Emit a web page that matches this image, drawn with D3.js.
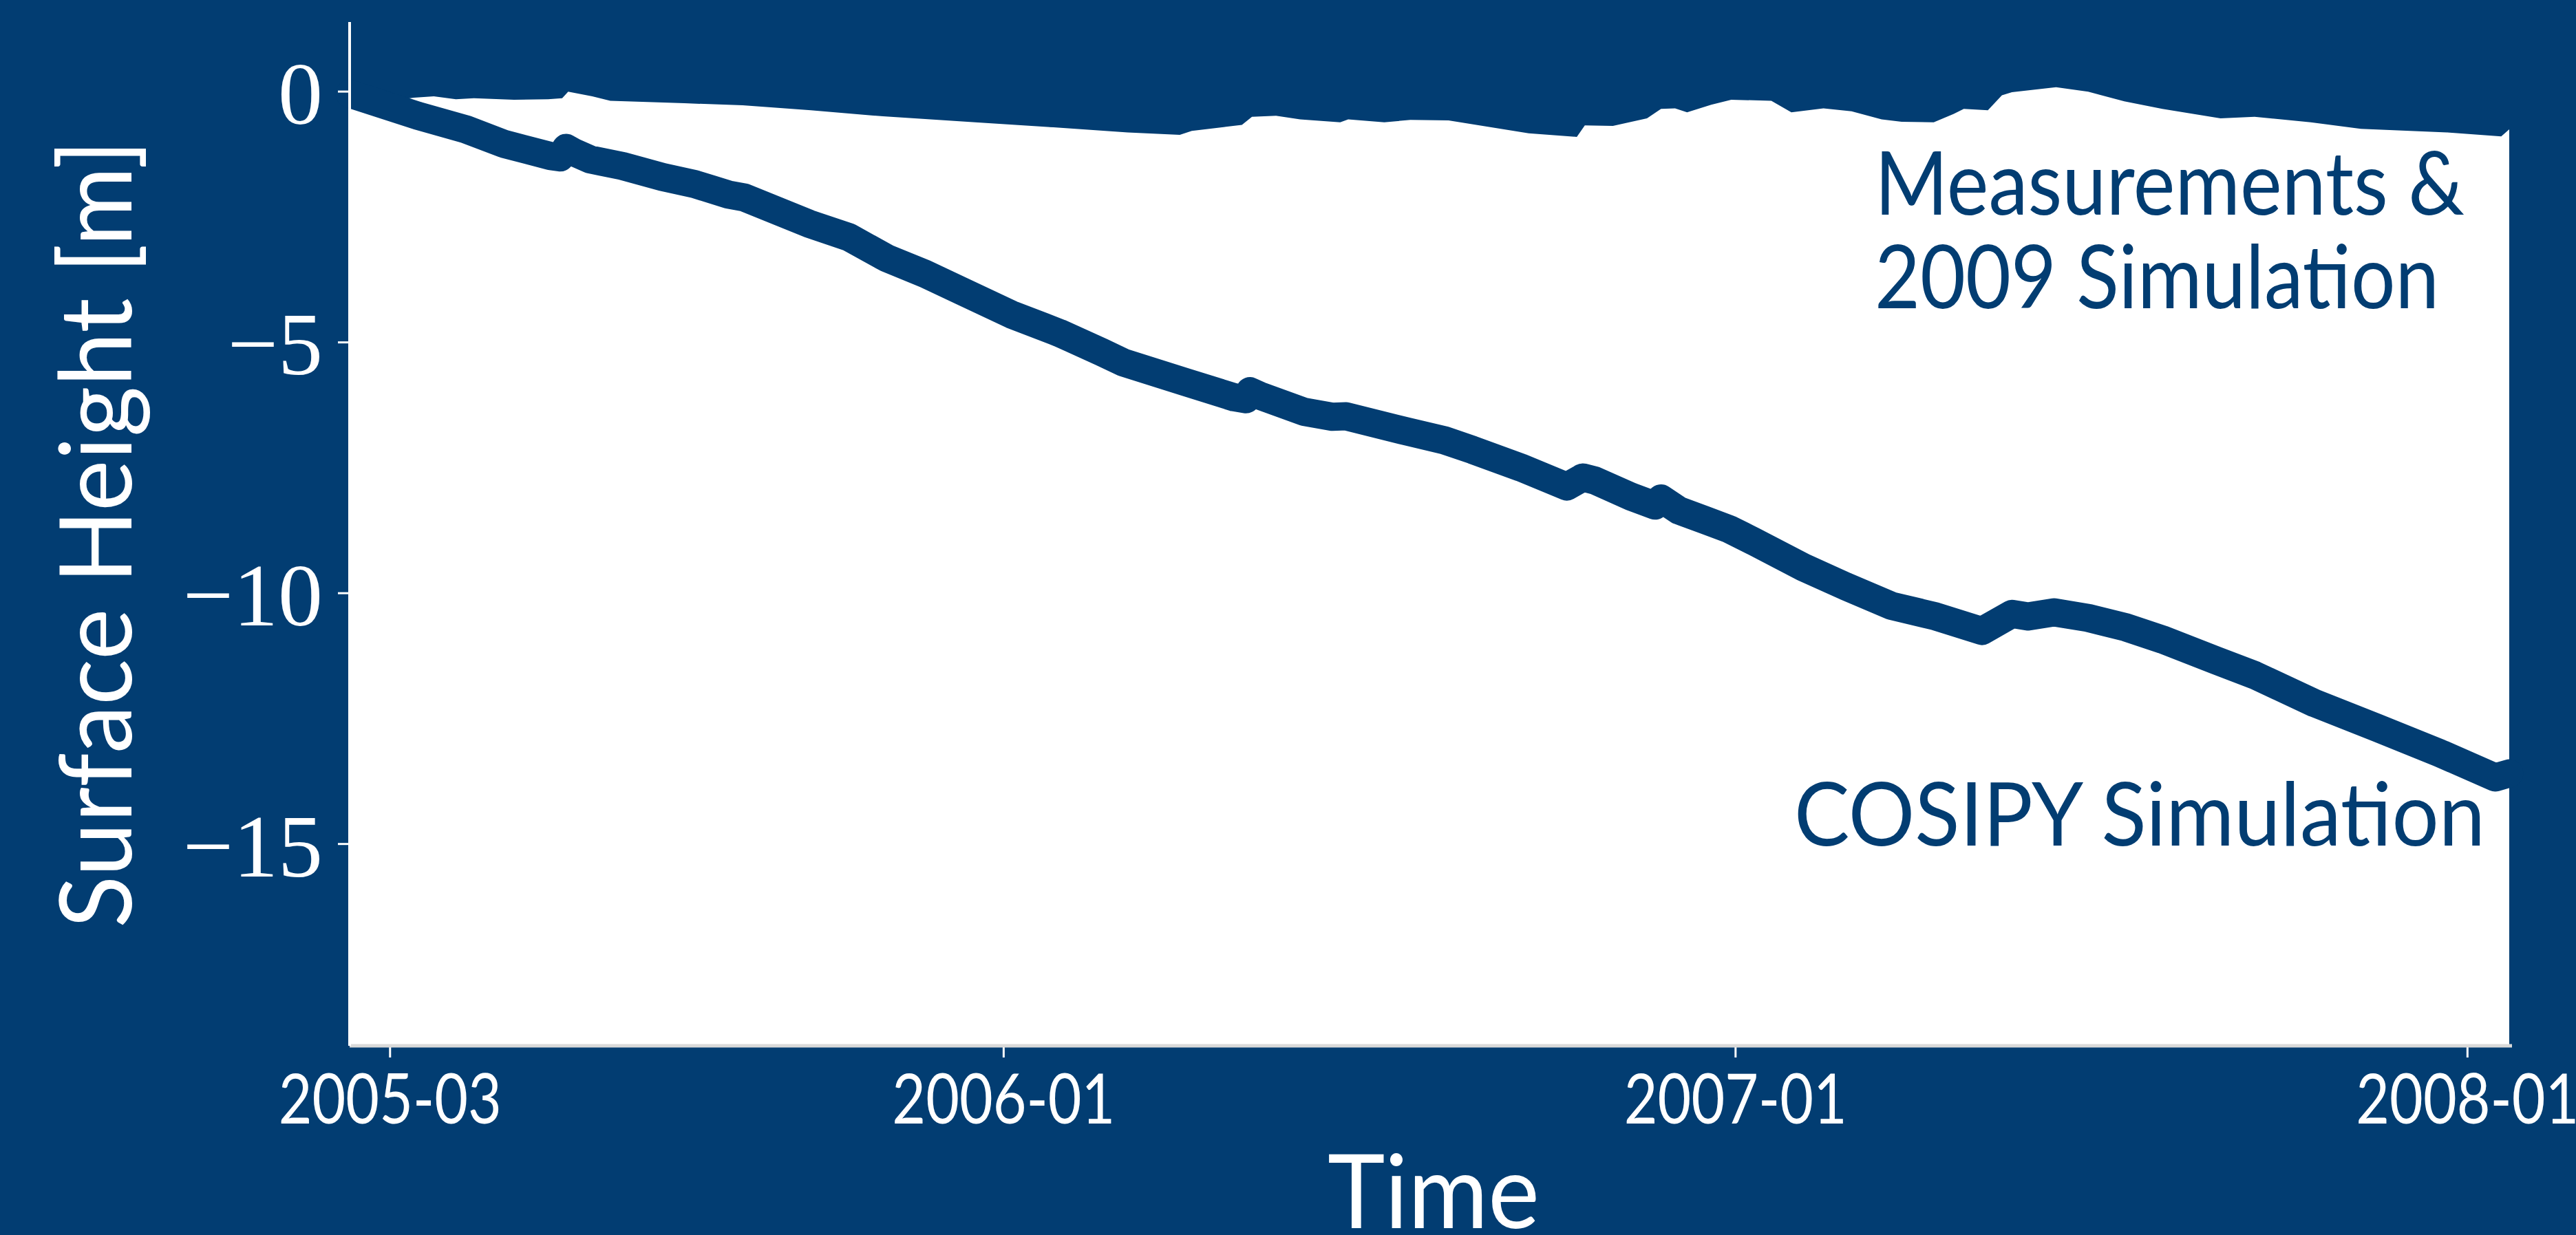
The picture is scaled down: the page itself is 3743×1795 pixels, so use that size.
<!DOCTYPE html>
<html>
<head>
<meta charset="utf-8">
<script src="https://cdn.jsdelivr.net/npm/d3@7"></script>
<style>
  body { margin: 0; background: #023d72; }
  svg { display: block; }
</style>
</head>
<body>
<div id="chart"></div>
<script>
"use strict";

// COSIPY simulation, surface height in m
var cosipyDates = ["2005-02-09","2005-03-15","2005-04-08","2005-04-27","2005-05-20","2005-05-25","2005-05-28","2005-06-01","2005-06-09","2005-06-25","2005-07-15","2005-07-31","2005-08-17","2005-08-25","2005-09-26","2005-10-16","2005-11-04","2005-11-23","2005-12-11","2006-01-05","2006-01-29","2006-02-19","2006-03-02","2006-04-02","2006-04-26","2006-05-02","2006-05-04","2006-05-09","2006-05-31","2006-06-14","2006-06-21","2006-07-21","2006-08-09","2006-08-23","2006-09-16","2006-10-09","2006-10-17","2006-10-23","2006-11-10","2006-11-22","2006-11-25","2006-12-04","2006-12-17","2006-12-29","2007-01-10","2007-02-04","2007-02-25","2007-03-20","2007-04-11","2007-05-04","2007-05-19","2007-05-27","2007-06-09","2007-06-26","2007-07-15","2007-08-02","2007-08-29","2007-09-17","2007-10-17","2007-11-17","2007-12-18","2008-01-15","2008-01-22"];
var cosipyHeight = [-0.05,-0.49,-0.76,-1.05,-1.29,-1.32,-1.13,-1.22,-1.36,-1.49,-1.71,-1.85,-2.06,-2.12,-2.64,-2.91,-3.33,-3.64,-3.98,-4.45,-4.82,-5.20,-5.41,-5.80,-6.10,-6.14,-5.98,-6.07,-6.39,-6.49,-6.48,-6.78,-6.96,-7.15,-7.50,-7.88,-7.70,-7.76,-8.08,-8.26,-8.12,-8.36,-8.55,-8.73,-8.97,-9.49,-9.87,-10.26,-10.47,-10.76,-10.42,-10.47,-10.39,-10.50,-10.69,-10.93,-11.35,-11.64,-12.20,-12.69,-13.19,-13.68,-13.60];

// measurements & 2009 simulation (filled up to the top of the plot)
var measDates = ["2005-02-09","2005-03-13","2005-03-23","2005-04-03","2005-04-12","2005-05-02","2005-05-19","2005-05-26","2005-05-29","2005-06-10","2005-06-19","2005-07-26","2005-08-24","2005-09-27","2005-11-02","2005-12-18","2006-01-26","2006-03-04","2006-03-30","2006-04-05","2006-04-22","2006-04-30","2006-05-05","2006-05-17","2006-05-29","2006-06-18","2006-06-22","2006-07-10","2006-07-23","2006-08-11","2006-09-20","2006-10-14","2006-10-18","2006-11-01","2006-11-18","2006-11-25","2006-12-02","2006-12-08","2006-12-20","2006-12-30","2007-01-19","2007-01-29","2007-02-14","2007-02-28","2007-03-15","2007-03-25","2007-04-10","2007-04-20","2007-04-25","2007-05-07","2007-05-14","2007-05-19","2007-06-10","2007-06-26","2007-07-14","2007-08-02","2007-08-31","2007-09-17","2007-10-15","2007-11-09","2007-12-22","2008-01-18","2008-01-22"];
var measHeight = [-0.30,-0.13,-0.10,-0.16,-0.14,-0.17,-0.16,-0.14,-0.01,-0.10,-0.19,-0.24,-0.28,-0.38,-0.50,-0.62,-0.72,-0.82,-0.87,-0.79,-0.71,-0.67,-0.51,-0.49,-0.56,-0.62,-0.56,-0.62,-0.57,-0.58,-0.84,-0.91,-0.68,-0.69,-0.54,-0.35,-0.34,-0.42,-0.27,-0.17,-0.19,-0.42,-0.34,-0.40,-0.56,-0.61,-0.62,-0.45,-0.35,-0.38,-0.08,-0.02,0.08,-0.01,-0.20,-0.35,-0.54,-0.51,-0.62,-0.75,-0.82,-0.90,-0.76];

// axes
var xTickDates = ["2005-03-01", "2006-01-01", "2007-01-01", "2008-01-01"];
var xTickLabels = ["2005-03", "2006-01", "2007-01", "2008-01"];
var yTicks = [0, -5, -10, -15];
var xLimits = ["2005-02-09", "2008-01-22"];
var yLimits = [-19.03, 1.38];

var blue = "#023d72";
var sans = "Lato, 'Open Sans', sans-serif";
var serif = "'Liberation Serif', 'DejaVu Serif', serif";

var parse = d3.utcParse("%Y-%m-%d");

var margin = { top: 32, right: 97, bottom: 275, left: 508 },
    W = 3743, H = 1795,
    width = W - margin.left - margin.right,
    height = H - margin.top - margin.bottom;

var svg = d3.select("#chart")
  .append("svg")
  .attr("width", W)
  .attr("height", H);

svg.append("rect")
  .attr("width", W).attr("height", H)
  .attr("fill", blue);

var g = svg.append("g")
  .attr("transform", "translate(" + margin.left + "," + margin.top + ")");

var x = d3.scaleUtc().domain(xLimits.map(parse)).range([0, width]);
var y = d3.scaleLinear().domain(yLimits).range([height, 0]);

var cosipy = cosipyDates.map(function (d, i) { return { date: parse(d), h: cosipyHeight[i] }; });
var meas = measDates.map(function (d, i) { return { date: parse(d), h: measHeight[i] }; });

// white plot area
g.append("rect")
  .attr("width", width).attr("height", height)
  .attr("fill", "#fff");

// measurements: filled from the curve up to the top
g.append("path")
  .datum(meas)
  .attr("fill", blue)
  .attr("d", d3.area()
    .x(function (d) { return x(d.date); })
    .y0(0)
    .y1(function (d) { return y(d.h); }));

// COSIPY line
g.append("path")
  .datum(cosipy)
  .attr("fill", "none")
  .attr("stroke", blue)
  .attr("stroke-width", 41)
  .attr("stroke-linejoin", "round")
  .attr("stroke-linecap", "round")
  .attr("d", d3.line()
    .x(function (d) { return x(d.date); })
    .y(function (d) { return y(d.h); }));

// y axis
var yAxis = g.append("g")
  .call(d3.axisLeft(y).tickValues(yTicks).tickSize(17).tickPadding(22).tickFormat(d3.format("d")));
yAxis.select(".domain").remove();
yAxis.selectAll(".tick line").attr("stroke", "#fff").attr("stroke-width", 3);
yAxis.selectAll(".tick text")
  .attr("fill", "#fff")
  .attr("font-family", serif)
  .attr("font-size", 130)
  .attr("dy", "0.36em");

// x axis
var xAxis = g.append("g")
  .attr("transform", "translate(0," + height + ")")
  .call(d3.axisBottom(x).tickValues(xTickDates.map(parse)).tickSize(17)
    .tickFormat(function (d, i) { return xTickLabels[i]; }));
xAxis.select(".domain").remove();
xAxis.selectAll(".tick line").attr("stroke", "#fff").attr("stroke-width", 3);
xAxis.selectAll(".tick text")
  .attr("fill", "#fff")
  .attr("font-family", sans)
  .attr("font-size", 101)
  .attr("y", 113)
  .attr("dy", 0)
  .attr("textLength", 324)
  .attr("lengthAdjust", "spacingAndGlyphs");

// spines
g.append("line")
  .attr("x1", 0).attr("x2", width + 4)
  .attr("y1", height).attr("y2", height)
  .attr("stroke", "#d9d9d9").attr("stroke-width", 5);
g.append("line")
  .attr("x1", 0).attr("x2", 0)
  .attr("y1", 0).attr("y2", height)
  .attr("stroke", "#fff").attr("stroke-width", 4);

// axis labels
svg.append("text")
  .attr("x", margin.left + width / 2 + 6)
  .attr("y", 1785)
  .attr("text-anchor", "middle")
  .attr("fill", "#fff")
  .attr("font-family", sans)
  .attr("font-size", 150)
  .attr("textLength", 308)
  .attr("lengthAdjust", "spacingAndGlyphs")
  .text("Time");

svg.append("text")
  .attr("transform", "translate(191,776) rotate(-90)")
  .attr("text-anchor", "middle")
  .attr("fill", "#fff")
  .attr("font-family", sans)
  .attr("font-size", 145)
  .attr("textLength", 1146)
  .attr("lengthAdjust", "spacingAndGlyphs")
  .text("Surface Height [m]");

// annotations
var notes = [
  { text: "Measurements &", x: 2724, y: 312, len: 857 },
  { text: "2009 Simulation", x: 2724, y: 448, len: 820 },
  { text: "COSIPY Simulation", x: 2607, y: 1229, len: 1004 }
];
svg.selectAll(".note")
  .data(notes)
  .enter()
  .append("text")
  .attr("class", "note")
  .attr("x", function (d) { return d.x; })
  .attr("y", function (d) { return d.y; })
  .attr("fill", blue)
  .attr("font-family", sans)
  .attr("font-size", 128)
  .attr("textLength", function (d) { return d.len; })
  .attr("lengthAdjust", "spacingAndGlyphs")
  .text(function (d) { return d.text; });
</script>
</body>
</html>
